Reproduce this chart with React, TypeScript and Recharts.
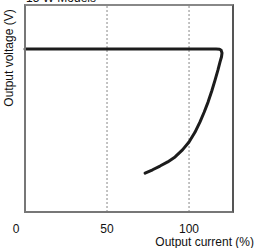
import { LineChart, Line, XAxis, YAxis, ReferenceLine } from "recharts"

// output current (%) along the drooping curve, in drawing order
const currentPct = [0, 60, 116.5, 118.6, 119.6, 120.1, 119.8, 118.9, 117.6, 115.9, 113.9, 111.6, 109.2, 106.7, 103.6, 100, 96, 91.5, 87, 82.3, 77.8, 73.2]
// output voltage (relative units, 0-100 = plot height)
const voltage = [78.7, 78.7, 78.7, 78.6, 78.1, 76.8, 75, 72.5, 68.5, 63.8, 58.6, 53.1, 48.2, 43.5, 38.5, 33.8, 30, 26.6, 24.2, 22.2, 20.4, 18.8]

const xTicks = [0, 50, 100]
const gridLines = [50, 100]
const X_MAX = 126.8

const data = currentPct.map((c, i) => ({ current: c, voltage: voltage[i] }))

const FONT = "'Liberation Sans', Arial, sans-serif"

const XTick = (props: any) => {
  const { x, y, payload } = props
  const shift = payload.value === 0 ? -9 : 0
  return (
    <text x={x + shift} y={y + 10} textAnchor="middle" dominantBaseline="middle" fontSize={12} fill="#111" fontFamily={FONT}>
      {payload.value}
    </text>
  )
}

export default function App() {
  return (
    <div style={{ position: "absolute", left: 0, top: 0, width: 256, height: 248, background: "#fff", overflow: "hidden", fontFamily: FONT }}>
      <LineChart width={256} height={248} data={data} margin={{ top: 5, right: 23, left: 25, bottom: 0 }}>
        <XAxis
          dataKey="current"
          type="number"
          domain={[0, X_MAX]}
          ticks={xTicks}
          tick={<XTick />}
          tickLine={false}
          axisLine={false}
          height={36}
        />
        <YAxis type="number" domain={[0, 100]} hide />
        {gridLines.map((g) => (
          <ReferenceLine key={g} x={g} stroke="#888" strokeDasharray="2 2" strokeWidth={1} />
        ))}
        <Line
          dataKey="voltage"
          type="linear"
          stroke="#1c1c1c"
          strokeWidth={3}
          dot={false}
          strokeLinejoin="round"
          strokeLinecap="round"
          isAnimationActive={false}
        />
      </LineChart>
      {/* plot frame */}
      <div
        style={{
          position: "absolute",
          left: 24,
          top: 4,
          width: 206,
          height: 205,
          borderLeft: "2px solid #777",
          borderTop: "2px solid #888",
          borderRight: "2px solid #555",
          borderBottom: "2px solid #777",
          pointerEvents: "none",
        }}
      />
      <div style={{ position: "absolute", left: 26, top: -9, fontSize: 12, color: "#111" }}>15 W Models</div>
      <div
        style={{
          position: "absolute",
          left: 9,
          top: 58,
          fontSize: 12,
          color: "#111",
          whiteSpace: "nowrap",
          transform: "translate(-50%, -50%) rotate(-90deg)",
        }}
      >
        Output voltage (V)
      </div>
      <div style={{ position: "absolute", right: 2, top: 235, fontSize: 12, color: "#111", whiteSpace: "nowrap" }}>
        Output current (%)
      </div>
    </div>
  )
}
